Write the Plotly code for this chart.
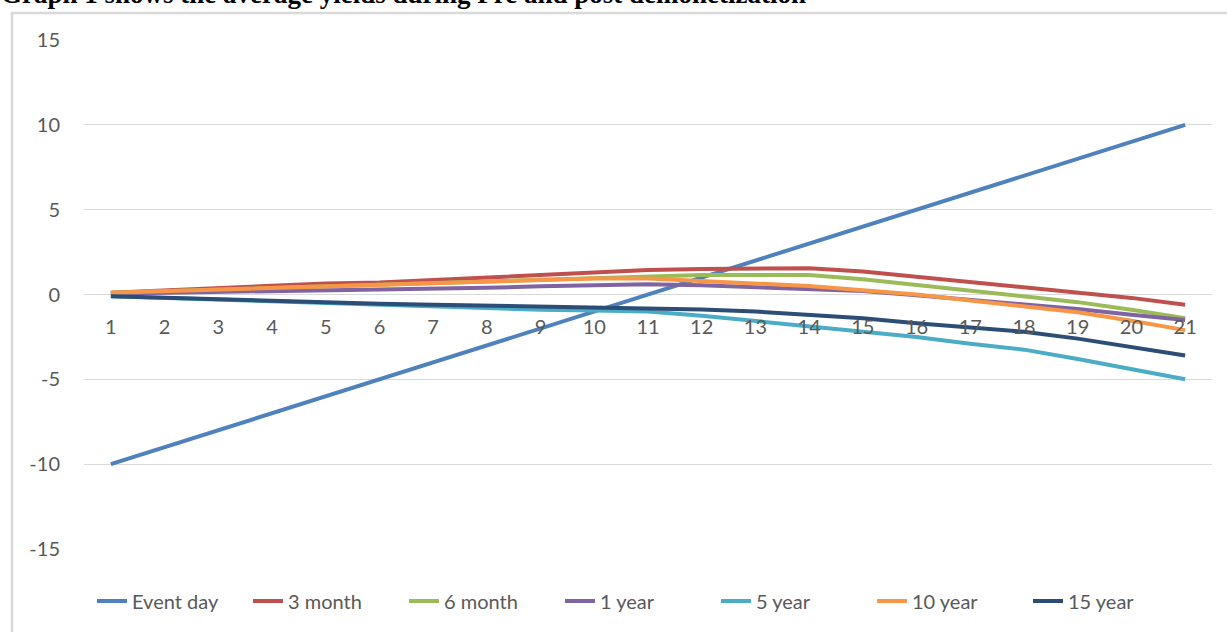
import plotly.graph_objects as go

# Trading days around the event
days = [str(d) for d in range(1, 22)]

event_day = [-10, -9, -8, -7, -6, -5, -4, -3, -2, -1, 0, 1, 2, 3, 4, 5, 6, 7, 8, 9, 10]
month_3 = [0.1, 0.25, 0.4, 0.55, 0.65, 0.7, 0.85, 1.0, 1.15, 1.3, 1.45, 1.5, 1.55, 1.55,
           1.35, 1.05, 0.7, 0.45, 0.1, -0.2, -0.6]
month_6 = [0.1, 0.2, 0.3, 0.4, 0.5, 0.6, 0.7, 0.8, 0.9, 1.0, 1.1, 1.15, 1.15, 1.15,
           0.9, 0.55, 0.2, -0.1, -0.45, -0.9, -1.4]
year_1 = [0.05, 0.1, 0.15, 0.2, 0.25, 0.28, 0.32, 0.4, 0.48, 0.55, 0.6, 0.55, 0.45, 0.35,
          0.2, -0.05, -0.3, -0.55, -0.85, -1.2, -1.5]
year_5 = [-0.1, -0.2, -0.35, -0.45, -0.55, -0.65, -0.75, -0.82, -0.9, -0.95, -1.0, -1.25,
          -1.55, -1.85, -2.2, -2.5, -2.9, -3.25, -3.8, -4.4, -5.0]
year_10 = [0.1, 0.2, 0.3, 0.4, 0.5, 0.55, 0.65, 0.8, 0.9, 0.95, 0.95, 0.8, 0.65, 0.5,
           0.25, 0.0, -0.35, -0.7, -1.05, -1.55, -2.1]
year_15 = [-0.1, -0.2, -0.3, -0.4, -0.5, -0.55, -0.6, -0.65, -0.7, -0.75, -0.8, -0.88,
           -1.0, -1.2, -1.4, -1.7, -1.95, -2.2, -2.6, -3.1, -3.6]

series_names = ["Event day", "3 month", "6 month", "1 year", "5 year", "10 year", "15 year"]
series_values = [event_day, month_3, month_6, year_1, year_5, year_10, year_15]
series_colors = ["#4F81BD", "#C0504D", "#9BBB59", "#8064A2", "#4BACC6", "#F79646", "#2C4D75"]

y_ticks = [-15, -10, -5, 0, 5, 10, 15]
y_tick_labels = ["-15", "-10", "-5", "0", "5", "10", "15"]

W, H = 1227, 632
ML, MR, MT, MB = 84, 15, 40, 83
plot_w = W - ML - MR
plot_h = H - MT - MB


def px_x(p):
    return (p - ML) / plot_w


def px_y(p):
    return (H - MB - p) / plot_h


fig = go.Figure()
for name, vals, col in zip(series_names, series_values, series_colors):
    fig.add_trace(go.Scatter(x=days, y=vals, name=name, mode="lines",
                             line=dict(color=col, width=4)))

font_main = dict(family="Lato, Open Sans, sans-serif", size=20, color="#595959")

fig.update_layout(
    width=W, height=H,
    margin=dict(l=ML, r=MR, t=MT, b=MB, autoexpand=False),
    paper_bgcolor="white", plot_bgcolor="white",
    font=font_main,
    showlegend=True,
    legend=dict(orientation="h", x=px_x(92), xanchor="left", y=px_y(601), yanchor="middle",
                font=font_main, entrywidth=111, entrywidthmode="pixels",
                itemwidth=30, tracegroupgap=0),
    xaxis=dict(type="category", range=[-0.5, 20.5], showgrid=False, zeroline=False,
               showline=False, anchor="free", position=0.5,
               ticks="outside", ticklen=14, tickcolor="rgba(0,0,0,0)",
               tickfont=font_main),
    yaxis=dict(range=[-15, 15], tickvals=y_ticks, ticktext=y_tick_labels,
               showgrid=True, gridcolor="#D9D9D9",
               gridwidth=1, zeroline=False, showline=False,
               ticks="outside", ticklen=19, tickcolor="rgba(0,0,0,0)",
               tickfont=font_main),
    shapes=[dict(type="rect", xref="paper", yref="paper",
                 x0=px_x(12), x1=px_x(1245), y0=px_y(650), y1=px_y(13),
                 line=dict(color="#D9D9D9", width=2.5), layer="below")],
    annotations=[dict(text="<b>Graph 1 shows the average yields during Pre and post demonetization</b>",
                      xref="paper", yref="paper", x=px_x(-1), y=px_y(11),
                      xanchor="left", yanchor="bottom", showarrow=False,
                      font=dict(family="Liberation Serif, Times New Roman, serif",
                                size=27, color="black"))],
)

fig.write_html("out.html")
